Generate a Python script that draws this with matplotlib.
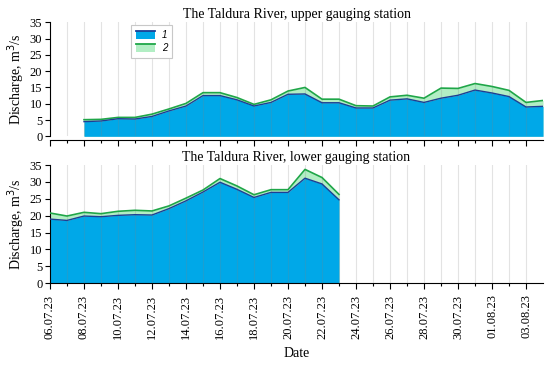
import numpy as np
import pandas as pd
import matplotlib
matplotlib.use("Agg")
import matplotlib.pyplot as plt
from matplotlib.patches import Rectangle, Patch
from matplotlib.lines import Line2D
from matplotlib.legend_handler import HandlerBase

# daily discharge, m3/s
upper_dates = pd.date_range("2023-07-08", "2023-08-04", freq="D")
upper_1 = [4.5, 4.7, 5.4, 5.3, 6.1, 7.8, 9.3, 12.5, 12.5, 11.2, 9.3, 10.4,
           12.9, 13.0, 10.3, 10.3, 8.7, 8.7, 11.1, 11.5, 10.4, 11.7, 12.6,
           14.2, 13.3, 12.2, 9.0, 9.2]
upper_2 = [5.1, 5.2, 5.8, 5.8, 6.8, 8.4, 10.1, 13.4, 13.4, 11.9, 9.8, 11.2,
           13.9, 15.0, 11.4, 11.4, 9.4, 9.3, 12.1, 12.6, 11.7, 14.8, 14.7,
           16.2, 15.3, 14.1, 10.4, 11.0]

lower_dates = pd.date_range("2023-07-06", "2023-07-23", freq="D")
lower_1 = [19.0, 18.6, 19.9, 19.7, 20.1, 20.3, 20.2, 22.1, 24.4, 27.0, 29.9,
           27.8, 25.4, 26.9, 26.9, 31.1, 29.4, 24.7]
lower_2 = [20.8, 19.9, 21.0, 20.6, 21.3, 21.6, 21.4, 22.9, 25.2, 27.6, 31.0,
           28.8, 26.2, 27.7, 27.7, 33.7, 31.3, 26.3]

axis_days = pd.date_range("2023-07-06", "2023-08-03", freq="D")
titles = ["The Taldura River, upper gauging station",
          "The Taldura River, lower gauging station"]

blue_fill, blue_line = "#00a8e8", "#1d3f94"
green_fill, green_line = "#b2eec4", "#1fa648"

plt.rcParams["font.family"] = ["Liberation Serif", "DejaVu Serif"]


class TopLineHandler(HandlerBase):
    # patch with a line along its top edge, like the original legend
    def __init__(self, fill, edge):
        super().__init__()
        self.fill, self.edge = fill, edge

    def create_artists(self, legend, orig_handle, xdescent, ydescent,
                       width, height, fontsize, trans):
        r = Rectangle((-xdescent, -ydescent), width, height,
                      facecolor=self.fill, edgecolor="none", transform=trans)
        l = Line2D([-xdescent, -xdescent + width],
                   [-ydescent + height, -ydescent + height],
                   color=self.edge, lw=1.3, transform=trans)
        return [r, l]


fig = plt.figure(figsize=(5.5, 3.68), dpi=100)
ax_top = fig.add_axes([0.0909, 0.6296, 0.8964, 0.3098])
ax_bot = fig.add_axes([0.0909, 0.2302, 0.8964, 0.3214])

series = [(ax_top, upper_dates, upper_1, upper_2),
          (ax_bot, lower_dates, lower_1, lower_2)]

for i, (ax, d, s1, s2) in enumerate(series):
    ax.fill_between(d, s2, color=green_fill, lw=0, zorder=1)
    ax.fill_between(d, s1, color=blue_fill, lw=0, zorder=2)
    ax.plot(d, s2, color=green_line, lw=1.2, zorder=4)
    ax.plot(d, s1, color=blue_line, lw=1.0, zorder=4)
    for day in axis_days[1:]:
        ax.axvline(day, color="#808080", alpha=0.22, lw=0.8, zorder=3)

    ax.set_xlim(pd.Timestamp("2023-07-06"), pd.Timestamp("2023-08-04"))
    ax.set_ylim(0, 35)
    ax.set_yticks(np.arange(0, 36, 5))
    ax.set_xticks(axis_days[::2])
    ax.set_xticks(axis_days[1::2], minor=True)
    ax.set_title(titles[i], fontsize=10, pad=3)
    ax.set_ylabel("Discharge, m$^3$/s", fontsize=10, labelpad=2)
    ax.spines["top"].set_visible(False)
    ax.spines["right"].set_visible(False)
    ax.tick_params(axis="y", labelsize=9, length=3.5, width=0.8, pad=2)
    ax.tick_params(axis="x", which="major", length=4.5, width=0.8, labelsize=9)
    ax.tick_params(axis="x", which="minor", length=2.5, width=0.8)

ax_top.spines["bottom"].set_position(("outward", 3))
ax_top.set_xticklabels([])
ax_bot.set_xticklabels([d.strftime("%d.%m.%y") for d in axis_days[::2]],
                       rotation=90)
ax_bot.set_xlabel("Date", fontsize=10, labelpad=6)

h1, h2 = Patch(), Patch()
leg = ax_top.legend([h1, h2], ["1", "2"], loc="upper left",
                    bbox_to_anchor=(0.164, 0.976), borderaxespad=0,
                    handler_map={h1: TopLineHandler(blue_fill, blue_line),
                                 h2: TopLineHandler(green_fill, green_line)},
                    prop={"family": "Liberation Sans", "style": "italic", "size": 7},
                    fancybox=False, framealpha=1, edgecolor="#c8c8c8",
                    handlelength=2.0, handleheight=0.9, labelspacing=0.35,
                    borderpad=0.5, handletextpad=0.7)
leg.get_frame().set_linewidth(0.8)

fig.savefig("out.png", dpi=100)
